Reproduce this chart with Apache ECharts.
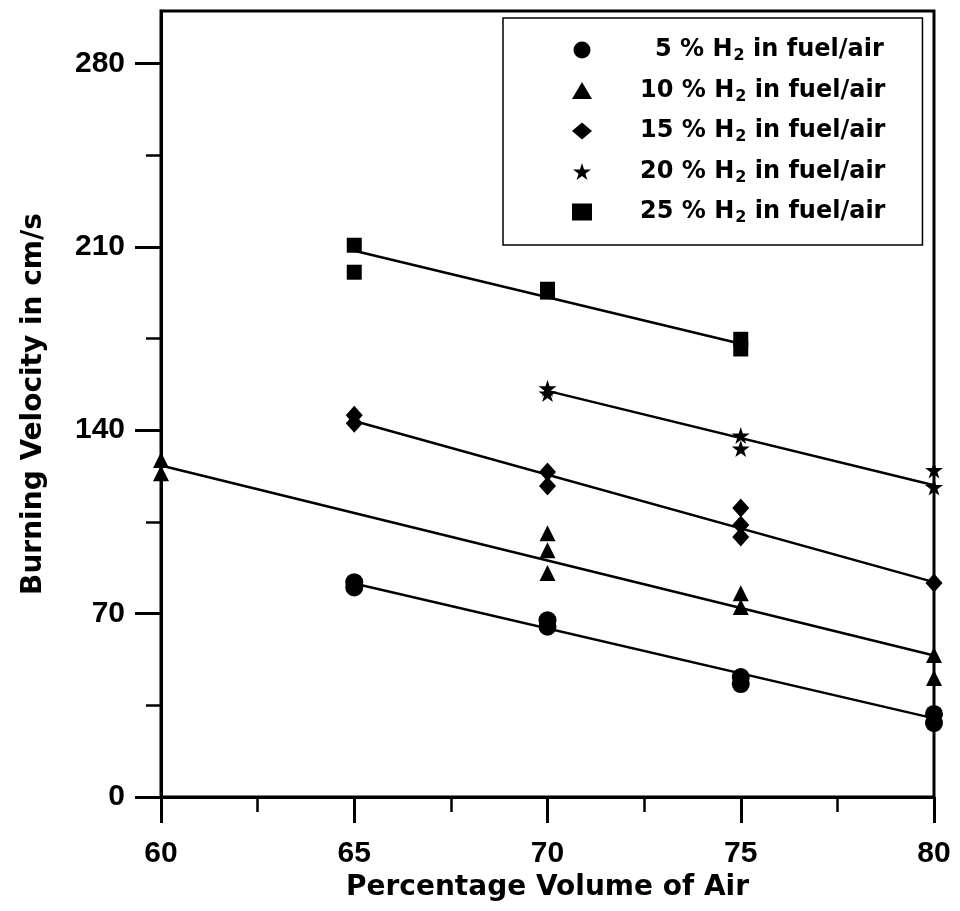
<!DOCTYPE html>
<html>
<head>
<meta charset="utf-8">
<script src="https://cdn.jsdelivr.net/npm/echarts@6/dist/echarts.min.js"></script>
<style>html,body{margin:0;padding:0;background:#fff;}#c{width:960px;height:911px;}</style>
</head>
<body>
<div id="c"></div>
<script>
// ---- data ----
const seriesNames = ['5 % H2 in fuel/air','10 % H2 in fuel/air','15 % H2 in fuel/air','20 % H2 in fuel/air','25 % H2 in fuel/air'];
const air5  = [65, 65, 70, 70, 75, 75, 80, 80];
const bv5   = [82, 80, 67.5, 65, 45.8, 43.1, 31.7, 28.2];
const air10 = [60, 60, 70, 70, 70, 75, 75, 80, 80];
const bv10  = [128.6, 123.6, 100.7, 94.2, 85.5, 77.8, 72.5, 54.2, 45.4];
const air15 = [65, 65, 70, 70, 75, 75, 75, 80];
const bv15  = [145.7, 142.7, 124, 118.7, 110.3, 103.8, 99.2, 81.7];
const air20 = [70, 70, 75, 75, 80, 80];
const bv20  = [156, 154, 138, 133, 124.8, 118.3];
const air25 = [65, 65, 70, 70, 75, 75];
const bv25  = [210.6, 200.3, 193.8, 192.7, 174.7, 171];
// fitted lines (end points)
const fitAir5  = [65, 80];  const fitBv5  = [81.5, 30];
const fitAir10 = [60, 80];  const fitBv10 = [126.5, 54];
const fitAir15 = [65, 80];  const fitBv15 = [143.5, 82];
const fitAir20 = [70, 80];  const fitBv20 = [155, 119];
const fitAir25 = [65, 75];  const fitBv25 = [208.5, 173];
// axis ticks
const xMajorTicks = [60, 65, 70, 75, 80];
const xMinorTicks = [62.5, 67.5, 72.5, 77.5];
const yMajorTicks = [0, 70, 140, 210, 280];
const yMinorTicks = [35, 105, 175, 245];

const FONT = '"DejaVu Sans", Verdana, sans-serif';
const TICKFONT = '"Liberation Sans", Arial, sans-serif';
const starPath = 'path://M50,0 L61,35 L98,35 L68,57 L79,91 L50,70 L21,91 L32,57 L2,35 L39,35 Z';
const pairs = (xs, ys) => xs.map((x, i) => [x, ys[i]]);

const scatterDefs = [
  {name: seriesNames[0], x: air5,  y: bv5,  symbol: 'circle',   size: 18},
  {name: seriesNames[1], x: air10, y: bv10, symbol: 'triangle', size: 16},
  {name: seriesNames[2], x: air15, y: bv15, symbol: 'diamond',  size: [17, 19]},
  {name: seriesNames[3], x: air20, y: bv20, symbol: starPath,   size: 18},
  {name: seriesNames[4], x: air25, y: bv25, symbol: 'rect',     size: 15}
];
const fitDefs = [
  [fitAir5, fitBv5], [fitAir10, fitBv10], [fitAir15, fitBv15], [fitAir20, fitBv20], [fitAir25, fitBv25]
];

const series = [];
fitDefs.forEach((f, i) => {
  series.push({
    type: 'line', name: 'fit' + i, data: pairs(f[0], f[1]),
    symbol: 'none', lineStyle: {color: '#000', width: 2.5}, silent: true, z: 2
  });
});
scatterDefs.forEach(d => {
  series.push({
    type: 'scatter', name: d.name, data: pairs(d.x, d.y),
    symbol: d.symbol, symbolSize: d.size, symbolKeepAspect: true,
    itemStyle: {color: '#000', opacity: 1}, z: 3
  });
});

const richBase = {fontFamily: FONT, fontWeight: 'bold', fontSize: 24, color: '#000', lineHeight: 28};
const chart = echarts.init(document.getElementById('c'), null, {renderer: 'canvas'});
chart.setOption({
  animation: false,
  backgroundColor: '#fff',
  grid: {left: 161, right: 26, top: 11, bottom: 114, show: true, borderColor: '#000', borderWidth: 3, backgroundColor: 'transparent'},
  legend: {
    data: seriesNames,
    orient: 'vertical',
    left: 503, top: 18,
    padding: [18, 37, 19, 69],
    itemGap: 12.5,
    itemWidth: 20, itemHeight: 17,
    borderColor: '#000', borderWidth: 1.5,
    selectedMode: false,
    formatter: function (name) {
      const parts = name.split('H2');
      const key = parts[0].startsWith('5 ') ? 'b' : 'f';
      return '{' + key + '|' + parts[0] + 'H}{s|2}{a|' + parts[1] + '}';
    },
    textStyle: {
      color: '#000', fontFamily: FONT, fontWeight: 'bold', fontSize: 24,
      rich: {
        a: Object.assign({}, richBase),
        f: Object.assign({}, richBase, {padding: [0, 0, 0, 43]}),
        b: Object.assign({}, richBase, {padding: [0, 0, 0, 58]}),
        s: {fontFamily: FONT, fontWeight: 'bold', fontSize: 16, color: '#000', lineHeight: 16, padding: [12, 0, 0, 1]}
      }
    }
  },
  xAxis: [
    {
      type: 'value', min: 60, max: 80, position: 'bottom',
      name: 'Percentage Volume of Air', nameLocation: 'middle', nameGap: 74,
      nameTextStyle: {color: '#000', fontFamily: FONT, fontWeight: 'bold', fontSize: 28},
      axisLine: {show: true, onZero: false, lineStyle: {color: '#000', width: 3}},
      axisTick: {show: true, length: 26, customValues: xMajorTicks, lineStyle: {color: '#000', width: 3}},
      axisLabel: {show: true, margin: 42, customValues: xMajorTicks, color: '#000', fontFamily: TICKFONT, fontWeight: 'bold', fontSize: 30},
      splitLine: {show: false}
    },
    {
      type: 'value', min: 60, max: 80, position: 'bottom',
      axisLine: {show: false, onZero: false},
      axisTick: {show: true, length: 15, customValues: xMinorTicks, lineStyle: {color: '#000', width: 2.5}},
      axisLabel: {show: false},
      splitLine: {show: false}
    }
  ],
  yAxis: [
    {
      type: 'value', min: 0, max: 300, position: 'left',
      name: 'Burning Velocity in cm/s', nameLocation: 'middle', nameGap: 113, nameRotate: 90,
      nameTextStyle: {color: '#000', fontFamily: FONT, fontWeight: 'bold', fontSize: 28},
      axisLine: {show: true, onZero: false, lineStyle: {color: '#000', width: 3}},
      axisTick: {show: true, length: 26, customValues: yMajorTicks, lineStyle: {color: '#000', width: 3}},
      axisLabel: {show: true, margin: 36, customValues: yMajorTicks, color: '#000', fontFamily: TICKFONT, fontWeight: 'bold', fontSize: 30},
      splitLine: {show: false}
    },
    {
      type: 'value', min: 0, max: 300, position: 'left',
      axisLine: {show: false, onZero: false},
      axisTick: {show: true, length: 15, customValues: yMinorTicks, lineStyle: {color: '#000', width: 2.5}},
      axisLabel: {show: false},
      splitLine: {show: false}
    }
  ],
  series: series
});
</script>
</body>
</html>
